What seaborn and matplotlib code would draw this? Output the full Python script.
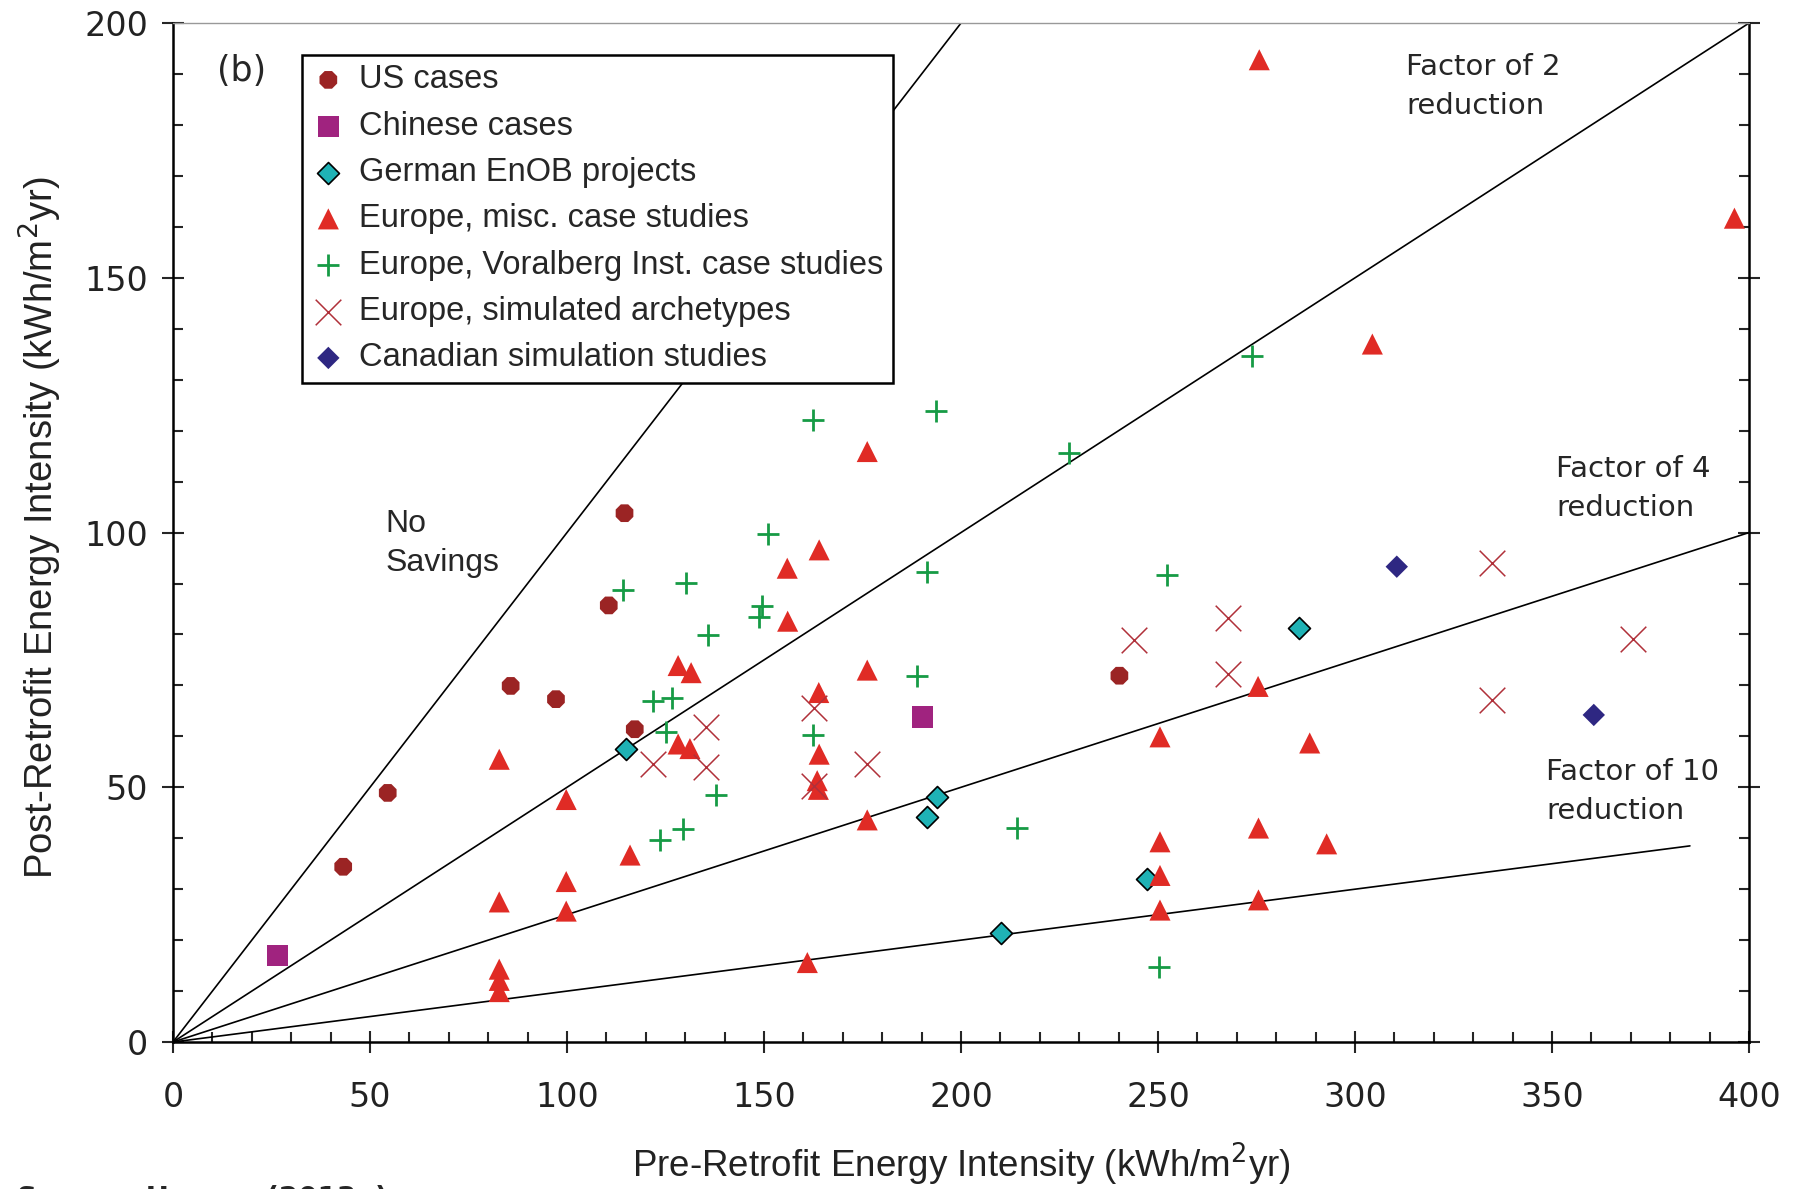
import numpy as np
import matplotlib.pyplot as plt
import seaborn as sns
from matplotlib.ticker import MultipleLocator

# ---- data (kWh/m2yr) ----
us_x = [43.2, 54.5, 85.7, 97.2, 110.6, 114.6, 117.2, 240.2]
us_y = [34.4, 48.9, 69.9, 67.3, 85.7, 103.8, 61.4, 71.9]

cn_x = [26.6, 190.2]
cn_y = [17.0, 63.8]

de_x = [114.9, 191.3, 194.0, 210.2, 247.1, 285.8]
de_y = [57.6, 44.1, 48.0, 21.5, 32.0, 81.2]

misc_x = [275.7, 396.3, 304.4, 176.2, 164.0, 155.9, 156.0, 128.2, 131.5, 176.2,
          275.4, 163.9, 128.2, 131.2, 82.8, 250.5, 288.5, 164.0, 163.5, 163.8,
          99.8, 176.2, 275.5, 250.5, 292.8, 116.0, 99.8, 250.5, 82.8, 275.5,
          99.8, 250.5, 82.8, 82.8, 82.8, 161.0]
misc_y = [192.8, 161.7, 137.0, 115.9, 96.6, 93.0, 82.6, 73.9, 72.5, 73.0,
          69.8, 68.6, 58.5, 57.6, 55.5, 59.9, 58.7, 56.5, 51.3, 49.6,
          47.6, 43.6, 42.0, 39.3, 38.9, 36.7, 31.5, 32.7, 27.5, 27.9,
          25.7, 25.9, 14.3, 12.1, 9.9, 15.6]

vor_x = [273.9, 162.4, 193.7, 227.5, 151.0, 114.2, 130.1, 191.4, 252.2, 149.6,
         148.8, 135.8, 188.8, 121.8, 126.6, 125.2, 162.4, 137.8, 123.5, 129.4,
         214.3, 250.3]
vor_y = [134.7, 122.1, 123.8, 115.6, 99.7, 88.7, 90.1, 92.3, 91.6, 85.6,
         83.5, 79.8, 71.8, 66.9, 67.5, 60.8, 60.3, 48.5, 39.7, 41.9,
         42.0, 14.8]

sim_x = [121.9, 135.4, 135.4, 162.6, 162.6, 176.2, 244.0, 267.7, 267.7, 334.7,
         334.7, 370.6]
sim_y = [54.6, 61.8, 54.0, 65.6, 50.2, 54.6, 79.0, 83.2, 72.2, 94.0,
         67.2, 79.2]

ca_x = [310.6, 360.6]
ca_y = [93.3, 64.2]

# reduction factor lines y = x / factor
factors = [1, 2, 4, 10]
line_end = [200, 400, 400, 385]

sns.set_style("ticks")
plt.rcParams["font.family"] = ["DejaVu Sans"]

fig = plt.figure(figsize=(18.02, 11.89), dpi=100)
ax = fig.add_axes([0.096, 0.1236, 0.8746, 0.857])

for k, xend in zip(factors, line_end):
    xs = np.array([0.0, xend])
    ax.plot(xs, xs / k, color="black", lw=1.2, zorder=1)

series = [
    ("US cases", us_x, us_y,
     dict(marker="8", color="#9b2424", s=190, edgecolor="none")),
    ("Chinese cases", cn_x, cn_y,
     dict(marker="s", color="#a0237f", s=235, edgecolor="none")),
    ("German EnOB projects", de_x, de_y,
     dict(marker="D", color="#1fb2b5", s=125, edgecolor="black", linewidth=1.2)),
    ("Europe, misc. case studies", misc_x, misc_y,
     dict(marker="^", color="#e02b25", s=230, edgecolor="none")),
    ("Europe, Voralberg Inst. case studies", vor_x, vor_y,
     dict(marker="+", color="#169b45", s=230, linewidth=2.0)),
    ("Europe, simulated archetypes", sim_x, sim_y,
     dict(marker="x", color="#b0303a", s=340, linewidth=1.1)),
    ("Canadian simulation studies", ca_x, ca_y,
     dict(marker="D", color="#2e2782", s=130, edgecolor="none")),
]

for label, xs, ys, kw in series:
    sns.scatterplot(x=xs, y=ys, ax=ax, label=label, zorder=3, **kw)

ax.set_xlim(0, 400)
ax.set_ylim(0, 200)
ax.xaxis.set_major_locator(MultipleLocator(50))
ax.xaxis.set_minor_locator(MultipleLocator(10))
ax.yaxis.set_major_locator(MultipleLocator(50))
ax.yaxis.set_minor_locator(MultipleLocator(10))

ax.tick_params(which="major", direction="inout", length=16, width=1.5,
               labelsize=24, labelcolor="#222222")
ax.tick_params(which="minor", direction="in", length=7, width=1.5)
ax.tick_params(axis="y", which="both", left=True, right=True, pad=10)
ax.tick_params(axis="x", which="both", bottom=True, top=False, pad=20)

for side in ["left", "right", "bottom"]:
    ax.spines[side].set_color("black")
    ax.spines[side].set_linewidth(1.8)
ax.spines["top"].set_color("#999999")
ax.spines["top"].set_linewidth(1.0)

ax.set_xlabel("Pre-Retrofit Energy Intensity (kWh/m$^2$yr)",
              fontsize=26.5, family="Liberation Sans", color="#222222")
ax.set_ylabel("Post-Retrofit Energy Intensity (kWh/m$^2$yr)",
              fontsize=27.5, family="Liberation Sans", color="#222222")
ax.xaxis.set_label_coords(0.5, -0.097)
ax.yaxis.set_label_coords(-0.069, 0.505)

leg = ax.legend(loc="upper left", bbox_to_anchor=(0.082, 0.969),
                borderaxespad=0, frameon=True, fancybox=False,
                edgecolor="black", framealpha=1,
                prop=dict(family="Liberation Sans", size=23.5),
                labelspacing=0.47, borderpad=0.3, handlelength=1.0,
                handletextpad=0.45)
leg.get_frame().set_linewidth(1.8)
leg.set_zorder(5)

ax.text(17.5, 190.5, "(b)", ha="center", va="center", fontsize=25)
ax.text(54, 97.8, "No\nSavings", ha="left", va="center", fontsize=23,
        family="Liberation Sans", linespacing=1.4)
ax.text(313, 187.6, "Factor of 2\nreduction", ha="left", va="center",
        fontsize=21, linespacing=1.5)
ax.text(351, 108.7, "Factor of 4\nreduction", ha="left", va="center",
        fontsize=21, linespacing=1.5)
ax.text(348.5, 49.1, "Factor of 10\nreduction", ha="left", va="center",
        fontsize=21, linespacing=1.5)

# source note, clipped at the bottom edge as in the original figure
fig.text(0.0094, 0.0034, "Source: Harvey (2013a)", fontsize=20,
         fontweight="bold", ha="left", va="top")

fig.savefig("out.png", dpi=100)
